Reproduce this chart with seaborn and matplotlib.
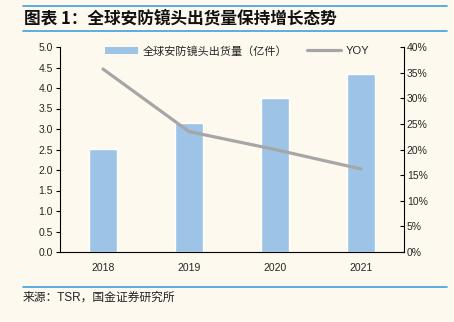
import matplotlib
matplotlib.use("Agg")
import matplotlib.pyplot as plt
import seaborn as sns
import pandas as pd
from matplotlib.lines import Line2D
from matplotlib.patches import Patch

years = ["2018", "2019", "2020", "2021"]
shipments = [2.51, 3.14, 3.76, 4.34]
yoy = [35.7, 23.5, 20.0, 16.2]
left_ticks = [0.0, 0.5, 1.0, 1.5, 2.0, 2.5, 3.0, 3.5, 4.0, 4.5, 5.0]
right_ticks = [0, 5, 10, 15, 20, 25, 30, 35, 40]
bar_label = "全球安防镜头出货量（亿件）"
line_label = "YOY"
title = "图表 1：全球安防镜头出货量保持增长态势"
source = "来源：TSR，国金证券研究所"

sns.set_style("white")
plt.rcParams['font.family'] = ['Liberation Sans', 'Noto Sans CJK SC', 'DejaVu Sans']

bg = "#FDF9EE"
bar_color = "#9DC3E6"
line_color = "#A6A6A6"
rule_color = "#3DA1DC"

df = pd.DataFrame({"year": years, "shipments": shipments, "yoy": yoy})

fig = plt.figure(figsize=(4.54, 3.22), dpi=100, facecolor=bg)
ax = fig.add_axes([60/454, 1-252/322, (404-60)/454, (252-47)/322])
ax.set_facecolor(bg)
sns.barplot(data=df, x="year", y="shipments", color=bar_color, width=0.33,
            saturation=1, ax=ax)
ax.set_xlim(-0.5, 3.5)
ax.set_ylim(0, 5)
ax.set_yticks(left_ticks)
ax.set_yticklabels([f"{v:.1f}" for v in left_ticks])
ax.set_xlabel("")
ax.set_ylabel("")
ax.set_xticks(range(len(years)))
ax.set_xticklabels(years)
ax.tick_params(axis="x", length=0, labelsize=7.5, pad=8)
ax.set_xticks([-0.5, 0.5, 1.5, 2.5, 3.5], minor=True)
ax.tick_params(axis="x", which="minor", length=3, width=0.8, color="black", direction="out")
ax.tick_params(axis="y", length=3, width=0.8, labelsize=7.5, pad=2, color="black", direction="out", left=True)
for s in ["left", "bottom"]:
    ax.spines[s].set_color("black")
    ax.spines[s].set_linewidth(0.8)
ax.spines["top"].set_visible(False)
ax.spines["right"].set_visible(False)

ax2 = ax.twinx()
sns.lineplot(x=list(range(len(years))), y=yoy, ax=ax2, color=line_color, linewidth=2.3)
ax2.set_ylim(0, 40)
ax2.set_yticks(right_ticks)
ax2.set_yticklabels([f"{v}%" for v in right_ticks])
ax2.tick_params(axis="y", length=3, width=0.8, labelsize=7.5, pad=2, color="black",
                direction="in", right=True)
ax2.spines["right"].set_color("black")
ax2.spines["right"].set_linewidth(0.8)
for s in ["top", "left", "bottom"]:
    ax2.spines[s].set_visible(False)
ax2.set_xlim(-0.5, 3.5)

handles = [Patch(facecolor=bar_color, edgecolor="none", label=bar_label),
           Line2D([0], [0], color=line_color, linewidth=2.3, label=line_label)]
fig.legend(handles=handles, loc="center", bbox_to_anchor=(237/454, 1-51/322), ncol=2,
           frameon=False, fontsize=8, handlelength=3.0, handleheight=0.7,
           columnspacing=1.8, handletextpad=0.4)

fig.add_artist(Line2D([23/454, 447/454], [1-6/322, 1-6/322], color=rule_color, linewidth=1.2))
fig.add_artist(Line2D([23/454, 447/454], [1-31/322, 1-31/322], color=rule_color, linewidth=1.2))
fig.add_artist(Line2D([23/454, 447/454], [1-287/322, 1-287/322], color=rule_color, linewidth=1.2))
fig.text(24/454, 1-18.5/322, title, fontsize=12, fontweight="bold", va="center", ha="left",
         family=['Noto Sans CJK SC', 'DejaVu Sans'], color="#111111")
fig.text(23/454, 1-298/322, source, fontsize=8.5, va="center", ha="left", color="#222222")

fig.savefig("out.png", dpi=100, facecolor=bg)
